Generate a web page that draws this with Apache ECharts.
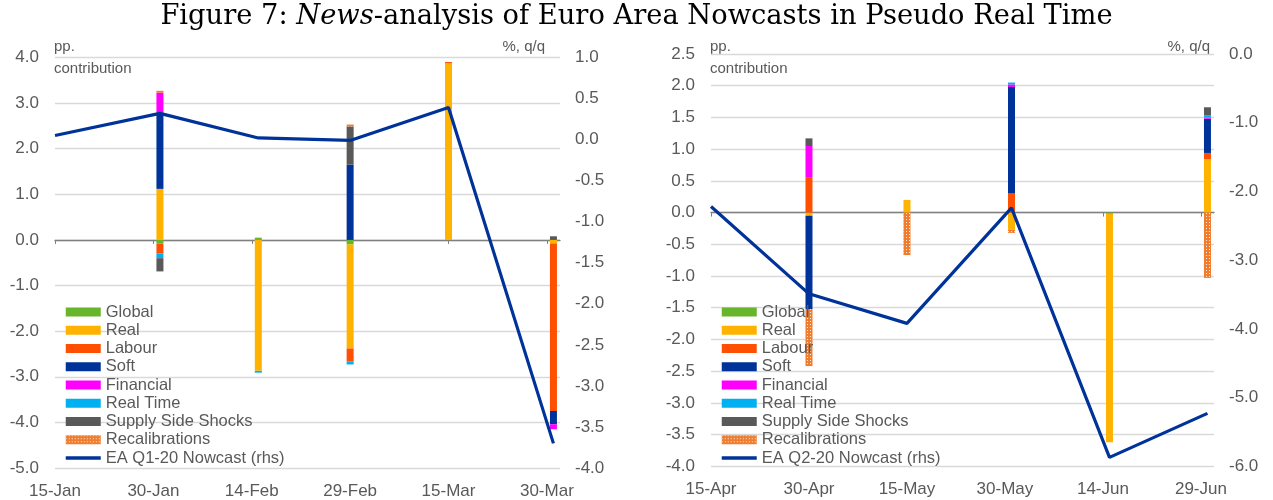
<!DOCTYPE html>
<html><head><meta charset="utf-8">
<script src="https://cdn.jsdelivr.net/npm/echarts@6/dist/echarts.min.js"></script>
<style>html,body{margin:0;padding:0;background:#fff}#c{width:1273px;height:500px}</style>
</head><body><div id="c"></div>
<script>
// ---------- axis ticks / labels ----------
const tickDatesQ1  = ['2020-01-15','2020-01-30','2020-02-14','2020-02-29','2020-03-15','2020-03-30'];
const tickLabelsQ1 = ['15-Jan','30-Jan','14-Feb','29-Feb','15-Mar','30-Mar'];
const axisRangeQ1  = ['2020-01-15','2020-04-01'];
const tickDatesQ2  = ['2020-04-15','2020-04-30','2020-05-15','2020-05-30','2020-06-14','2020-06-29'];
const tickLabelsQ2 = ['15-Apr','30-Apr','15-May','30-May','14-Jun','29-Jun'];
const axisRangeQ2  = ['2020-04-15','2020-07-01'];

// ---------- Q1 panel ----------
const barDatesQ1  = ['2020-01-31','2020-02-15','2020-02-29','2020-03-15','2020-03-31'];
const globalQ1    = [-0.08, 0.05, -0.10, 0, 0];
const realQ1      = [1.12, -2.87, -2.28, 3.87, -0.08];
const labourQ1    = [-0.22, 0, -0.28, 0.03, -3.67];
const softQ1      = [1.67, 0, 1.65, 0, -0.29];
const financialQ1 = [0.44, 0, 0, 0, -0.11];
const realTimeQ1  = [-0.10, -0.04, -0.07, 0, 0];
const supplyQ1    = [-0.29, 0, 0.84, 0, 0.08];
const recalQ1     = [0.04, 0, 0.04, 0, 0];
const lineDatesQ1 = ['2020-01-15','2020-01-31','2020-02-15','2020-02-29','2020-03-15','2020-03-31'];
const nowcastQ1   = [0.05, 0.32, 0.02, -0.01, 0.39, -3.70];

// ---------- Q2 panel ----------
const barDatesQ2  = ['2020-04-30','2020-05-15','2020-05-31','2020-06-15','2020-06-30'];
const globalQ2    = [0, 0, 0, -0.02, 0];
const realQ2      = [-0.05, 0.20, -0.27, -3.60, 0.84];
const labourQ2    = [0.56, 0, 0.30, 0, 0.10];
const softQ2      = [-1.47, 0, 1.68, 0, 0.54];
const financialQ2 = [0.49, 0, 0.04, 0, 0.02];
const realTimeQ2  = [0, 0, 0.03, 0, 0.03];
const supplyQ2    = [0.12, 0, 0, 0, 0.13];
const recalQ2     = [-0.90, -0.67, -0.05, 0, -1.03];
const lineDatesQ2 = ['2020-04-15','2020-04-30','2020-05-15','2020-05-31','2020-06-15','2020-06-30'];
const nowcastQ2   = [-2.22, -3.49, -3.92, -2.24, -5.87, -5.23];

const seriesNames = ['Global','Real','Labour','Soft','Financial','Real Time','Supply Side Shocks','Recalibrations'];
const seriesColors = ['#66B52B','#FFB300','#FF4F00','#003399','#FF00FF','#00B0F0','#595959','#F07C2D'];
const lineNameQ1 = 'EA Q1-20 Nowcast (rhs)';
const lineNameQ2 = 'EA Q2-20 Nowcast (rhs)';

// daily categories for a date axis
const dayList = (a, b) => {
  const pa = a.split('-').map(Number), pb = b.split('-').map(Number);
  let t = Date.UTC(pa[0], pa[1] - 1, pa[2]); const end = Date.UTC(pb[0], pb[1] - 1, pb[2]);
  const out = [];
  for (; t <= end; t += 86400000) out.push(new Date(t).toISOString().slice(0, 10));
  return out;
};

const panels = [
  {dates: barDatesQ1, vals: [globalQ1, realQ1, labourQ1, softQ1, financialQ1, realTimeQ1, supplyQ1, recalQ1],
   lineDates: lineDatesQ1, line: nowcastQ1, lineName: lineNameQ1,
   ticks: tickDatesQ1, labels: tickLabelsQ1, range: axisRangeQ1},
  {dates: barDatesQ2, vals: [globalQ2, realQ2, labourQ2, softQ2, financialQ2, realTimeQ2, supplyQ2, recalQ2],
   lineDates: lineDatesQ2, line: nowcastQ2, lineName: lineNameQ2,
   ticks: tickDatesQ2, labels: tickLabelsQ2, range: axisRangeQ2}
];

const FONT = 'Liberation Sans, Arial, sans-serif';
const GREY = '#595959';

const grids = [
  {left: 55, right: 713, top: 57.5, bottom: 31.5},
  {left: 711, right: 59, top: 54, bottom: 33.7}
];

const xAxes = [], yAxes = [], series = [], legends = [];
panels.forEach((p, g) => {
  const cats = dayList(p.range[0], p.range[1]);
  const isTick = (i, v) => p.ticks.indexOf(v) >= 0;
  // zero-line axis (ticks, no labels)
  xAxes.push({type: 'category', gridIndex: g, data: cats, boundaryGap: false,
    axisLine: {show: true, onZero: true, onZeroAxisIndex: g * 2, lineStyle: {color: '#808080', width: 1.3}},
    axisTick: {show: true, length: 4, inside: false, interval: isTick, lineStyle: {color: '#808080'}},
    axisLabel: {show: false}, splitLine: {show: false}});
  // bottom labels axis
  xAxes.push({type: 'category', gridIndex: g, data: cats, boundaryGap: false, position: 'bottom',
    axisLine: {show: false, onZero: false}, axisTick: {show: false}, splitLine: {show: false},
    axisLabel: {show: true, interval: isTick, margin: 15, fontFamily: FONT, fontSize: 17, color: GREY,
      formatter: v => { const i = p.ticks.indexOf(v); return i >= 0 ? p.labels[i] : ''; }}});
  const leftRange = g === 0 ? {min: -5, max: 4, interval: 1} : {min: -4, max: 2.5, interval: 0.5};
  const rightRange = g === 0 ? {min: -4, max: 1, interval: 0.5} : {min: -6, max: 0, interval: 1};
  yAxes.push(Object.assign({type: 'value', gridIndex: g, position: 'left',
    axisLine: {show: false}, axisTick: {show: false},
    splitLine: {show: true, lineStyle: {color: '#D9D9D9', width: 1.3}},
    axisLabel: {fontFamily: FONT, fontSize: 17, color: GREY, margin: 16, formatter: v => v.toFixed(1)}}, leftRange));
  yAxes.push(Object.assign({type: 'value', gridIndex: g, position: 'right',
    axisLine: {show: false}, axisTick: {show: false}, splitLine: {show: false},
    axisLabel: {fontFamily: FONT, fontSize: 17, color: GREY, margin: 15, formatter: v => v.toFixed(1)}}, rightRange));

  seriesNames.forEach((name, k) => {
    const s = {
      name, type: 'bar', stack: 'news' + g, xAxisIndex: g * 2, yAxisIndex: g * 2,
      barWidth: 7, z: 2,
      itemStyle: {color: seriesColors[k]},
      emphasis: {disabled: true},
      data: p.dates.map((d, i) => [d, p.vals[k][i]])
    };
    if (name === 'Recalibrations') {
      s.itemStyle.decal = {symbol: 'rect', symbolSize: 1, color: 'rgba(255,255,255,0.85)',
        dashArrayX: [1, 1.5], dashArrayY: [1, 1.5], rotation: 0};
    }
    series.push(s);
  });
  series.push({name: p.lineName, type: 'line', xAxisIndex: g * 2, yAxisIndex: g * 2 + 1,
    symbol: 'none', z: 5, lineStyle: {color: '#003399', width: 3.2}, itemStyle: {color: '#003399'},
    data: p.lineDates.map((d, i) => [d, p.line[i]])});

  legends.push({orient: 'vertical', left: g === 0 ? 64 : 720, top: 303, padding: 0,
    itemWidth: 35, itemHeight: 9, itemGap: 0.25, itemTextGap: 4, selectedMode: false,
    textStyle: {fontFamily: FONT, fontSize: 16.5, color: GREY, lineHeight: 18},
    data: seriesNames.map(n => ({name: n, icon: 'rect'})).concat([{name: p.lineName,
      itemStyle: {color: 'rgba(0,0,0,0)', borderWidth: 0, opacity: 0},
      lineStyle: {color: '#003399', width: 3.5, opacity: 1}}])});
});

const smallText = (x, y, text, align) => ({type: 'text', x, y, silent: true,
  style: {text, fontFamily: FONT, fontSize: 15, fill: GREY, align: align || 'left', verticalAlign: 'middle'}});

const chart = echarts.init(document.getElementById('c'), null, {renderer: 'canvas'});
chart.setOption({
  animation: false,
  backgroundColor: '#fff',
  grid: grids,
  xAxis: xAxes,
  yAxis: yAxes,
  legend: legends,
  series,
  graphic: [
    {type: 'text', x: 636.5, y: 17, silent: true,
     style: {text: '{n|Figure 7: }{i|News}{n|-analysis of Euro Area Nowcasts in Pseudo Real Time}',
       align: 'center', verticalAlign: 'middle',
       rich: {n: {fontFamily: 'DejaVu Serif, serif', fontSize: 27.3, fill: '#000'},
              i: {fontFamily: 'DejaVu Serif, serif', fontSize: 27.3, fontStyle: 'italic', fill: '#000'}}}},
    smallText(54, 47, 'pp.'), smallText(54, 69, 'contribution'), smallText(545, 47, '%, q/q', 'right'),
    smallText(710, 47, 'pp.'), smallText(710, 69, 'contribution'), smallText(1210, 47, '%, q/q', 'right')
  ]
});
</script>
</body></html>
